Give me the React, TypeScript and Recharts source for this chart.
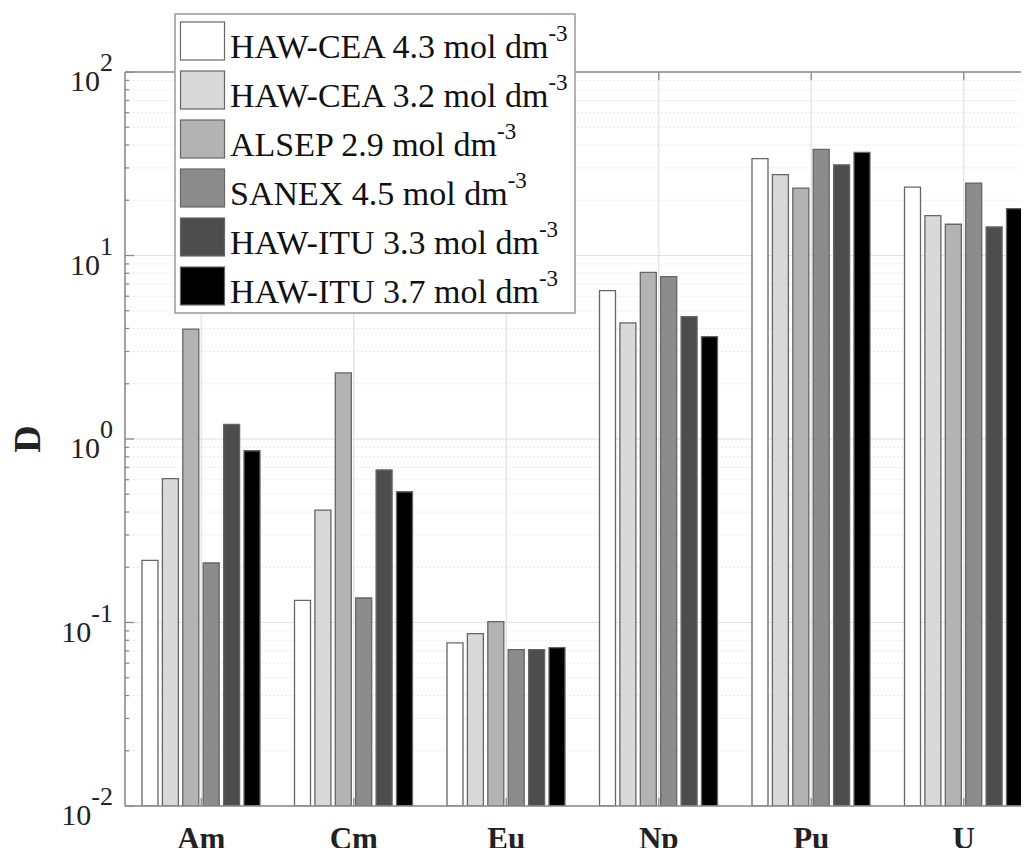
import { BarChart, Bar, XAxis, YAxis, CartesianGrid, Legend } from "recharts";

const elements = ["Am", "Cm", "Eu", "Np", "Pu", "U"];

const hawCea43 = [0.218, 0.132, 0.0774, 6.43, 33.7, 23.6];
const hawCea32 = [0.608, 0.41, 0.0869, 4.29, 27.6, 16.5];
const alsep29 = [3.97, 2.29, 0.101, 8.1, 23.3, 14.8];
const sanex45 = [0.211, 0.136, 0.0711, 7.67, 37.9, 24.8];
const hawItu33 = [1.2, 0.678, 0.0712, 4.64, 31.2, 14.3];
const hawItu37 = [0.863, 0.516, 0.0729, 3.61, 36.5, 18.0];

const majorTicks = [0.01, 0.1, 1, 10, 100];
const minorTicks = [
  0.02, 0.03, 0.04, 0.05, 0.06, 0.07, 0.08, 0.09,
  0.2, 0.3, 0.4, 0.5, 0.6, 0.7, 0.8, 0.9,
  2, 3, 4, 5, 6, 7, 8, 9,
  20, 30, 40, 50, 60, 70, 80, 90,
];
const exponents: Record<string, string> = {
  "0.01": "-2",
  "0.1": "-1",
  "1": "0",
  "10": "1",
  "100": "2",
};

const series = [
  { key: "hawCea43", label: "HAW-CEA 4.3 mol dm", values: hawCea43, fill: "#ffffff" },
  { key: "hawCea32", label: "HAW-CEA 3.2 mol dm", values: hawCea32, fill: "#d9d9d9" },
  { key: "alsep29", label: "ALSEP 2.9 mol dm", values: alsep29, fill: "#b3b3b3" },
  { key: "sanex45", label: "SANEX 4.5 mol dm", values: sanex45, fill: "#8c8c8c" },
  { key: "hawItu33", label: "HAW-ITU 3.3 mol dm", values: hawItu33, fill: "#4d4d4d" },
  { key: "hawItu37", label: "HAW-ITU 3.7 mol dm", values: hawItu37, fill: "#000000" },
];

const data = elements.map((name, i) => {
  const row: Record<string, string | number> = { name };
  series.forEach((s) => {
    row[s.key] = s.values[i];
  });
  return row;
});

const SERIF = "Liberation Serif";
const AXIS = "#8a8a8a";
const allTicks = [...majorTicks, ...minorTicks].sort((a, b) => a - b);

const YTick = (props: any) => {
  const { x, y, payload } = props;
  const exp = exponents[String(payload.value)];
  const major = exp !== undefined;
  return (
    <g>
      <line x1={x} x2={x + (major ? 9 : 4)} y1={y} y2={y} stroke={AXIS} strokeWidth={1.3} />
      {major && (
        <text x={x - 12} y={y + 19} textAnchor="end" fontFamily={SERIF} fontSize={30} fill="#222">
          <tspan>10</tspan>
          <tspan dy={-20} fontSize={26}>{exp}</tspan>
        </text>
      )}
    </g>
  );
};

const BottomTick = (props: any) => {
  const { x, y, payload } = props;
  return (
    <g>
      <line x1={x} x2={x} y1={y} y2={y - 8} stroke={AXIS} strokeWidth={1.3} />
      <text x={x} y={y + 43} textAnchor="middle" fontFamily={SERIF} fontWeight="bold" fontSize={31} fill="#222">
        {payload.value}
      </text>
    </g>
  );
};

const TopTick = (props: any) => {
  const { x, y } = props;
  return <line x1={x} x2={x} y1={y} y2={y + 8} stroke={AXIS} strokeWidth={1.3} />;
};

const renderLegend = () => (
  <svg width={402} height={302} style={{ display: "block" }}>
    <rect x={1} y={1} width={400} height={299} fill="#fff" stroke="#9a9a9a" strokeWidth={1.5} />
    {series.map((s, i) => (
      <g key={s.key}>
        <rect x={6.5} y={9 + i * 49} width={44} height={38} fill={s.fill} stroke="#666" strokeWidth={1.2} />
        <text x={56} y={45 + i * 49} fontFamily={SERIF} fontSize={34} fill="#111">
          <tspan>{s.label}</tspan>
          <tspan dy={-17} fontSize={23}>-3</tspan>
        </text>
      </g>
    ))}
  </svg>
);

const renderYLabel = (props: any) => {
  const { viewBox } = props;
  const cx = viewBox.x - 38;
  const cy = viewBox.y + viewBox.height / 2;
  return (
    <text
      x={cx}
      y={cy}
      transform={`rotate(-90, ${cx}, ${cy})`}
      textAnchor="middle"
      dominantBaseline="central"
      fontFamily={SERIF}
      fontWeight="bold"
      fontSize={38}
      fill="#222"
    >
      D
    </text>
  );
};

export default function App() {
  return (
    <div style={{ margin: -8, width: 1029, height: 856, overflow: "hidden", position: "relative", background: "#fff" }}>
      <BarChart
        width={1050}
        height={856}
        data={data}
        margin={{ top: 71, right: 10, bottom: 0, left: 65 }}
        barGap={4.4}
        barSize={16}
      >
        <CartesianGrid yAxisId="left" xAxisId="bottom" stroke="#e8e8e8" strokeDasharray="2 2" />
        <CartesianGrid yAxisId="major" xAxisId="bottom" stroke="#e2e2e2" strokeWidth={1.2} />
        <XAxis
          xAxisId="bottom"
          dataKey="name"
          height={50}
          axisLine={{ stroke: AXIS, strokeWidth: 1.5 }}
          tickLine={false}
          tickSize={0}
          tickMargin={0}
          tick={<BottomTick />}
          interval={0}
        />
        <XAxis
          xAxisId="top"
          orientation="top"
          dataKey="name"
          height={1}
          axisLine={{ stroke: AXIS, strokeWidth: 1.5 }}
          tickLine={false}
          tickSize={0}
          tickMargin={0}
          tick={<TopTick />}
          interval={0}
        />
        <YAxis
          yAxisId="left"
          type="number"
          scale="log"
          domain={[0.01, 100]}
          ticks={allTicks}
          allowDataOverflow
          width={60}
          interval={0}
          axisLine={{ stroke: AXIS, strokeWidth: 1.5 }}
          tickLine={false}
          tickSize={0}
          tickMargin={0}
          tick={<YTick />}
          label={{ content: renderYLabel }}
        />
        <YAxis yAxisId="major" type="number" scale="log" domain={[0.01, 100]} ticks={majorTicks} allowDataOverflow hide />
        {series.map((s) => (
          <Bar
            key={s.key}
            xAxisId="bottom"
            yAxisId="left"
            dataKey={s.key}
            name={s.label}
            fill={s.fill}
            stroke="#666"
            strokeWidth={1.3}
            isAnimationActive={false}
          />
        ))}
        <Legend
          layout="vertical"
          align="center"
          verticalAlign="middle"
          content={renderLegend}
          wrapperStyle={{ position: "absolute", left: 174, top: 13, width: 402, height: 302 }}
        />
      </BarChart>
    </div>
  );
}
